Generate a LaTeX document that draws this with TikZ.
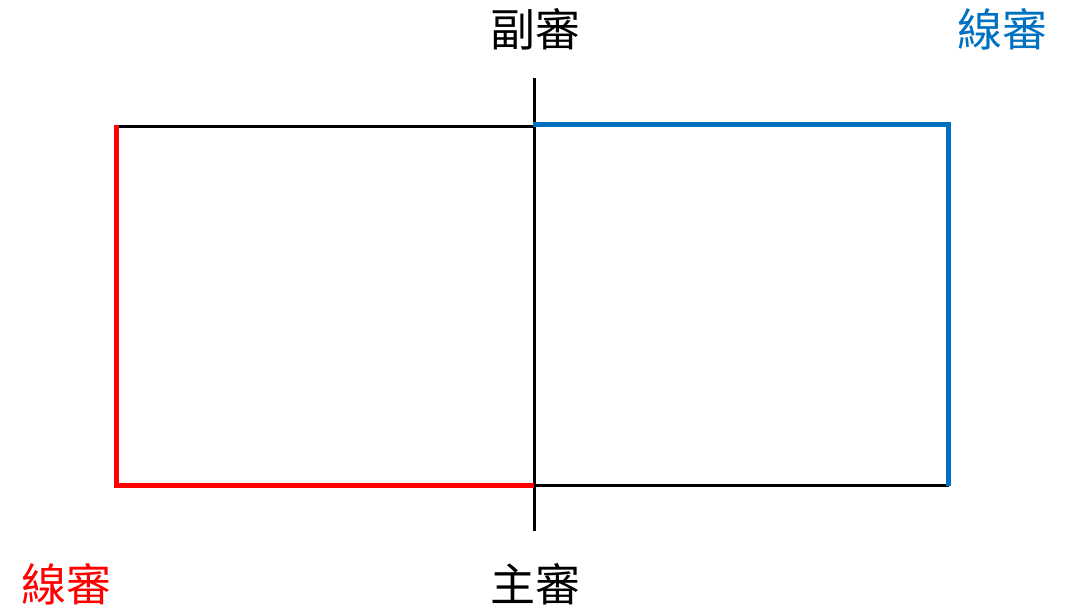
\documentclass[tikz,border=0pt]{standalone}
\usepackage{fontspec}
\newfontfamily\cjk{Noto Sans CJK TC}
\definecolor{refred}{HTML}{FF0000}
\definecolor{refblue}{HTML}{0070C0}
\begin{document}
\begin{tikzpicture}[x=1pt,y=-1pt,
  thinline/.style={draw=black,line width=3pt},
  redline/.style={draw=refred,line width=5pt,line join=miter},
  blueline/.style={draw=refblue,line width=5pt,line join=miter},
  lbl/.style={inner sep=0pt,font=\cjk\fontsize{45}{50}\selectfont}]
\useasboundingbox[fill=white] (0,0) rectangle (1071,607);
% corners
\coordinate (TL) at (116.5,126.5);
\coordinate (TM) at (534,126.5);
\coordinate (TR) at (948.5,126.5);
\coordinate (BL) at (116.5,485);
\coordinate (BM) at (534,485);
\coordinate (BR) at (948.5,485);
\coordinate (CT) at (534,78);
\coordinate (CB) at (534,531);
\coordinate (RS) at (116.5,125);
\coordinate (BS) at (532.5,125);
\coordinate (BC) at (948.5,125);
\coordinate (BE) at (948.5,486);
% black parts
\draw[thinline] (TL) -- (TM);
\draw[thinline] (BM) -- (BR);
\draw[thinline] (CT) -- (CB);
% red and blue sides
\draw[redline] (RS) -- (BL) -- (BM);
\draw[blueline] (BS) -- (BC) -- (BE);
% labels
\node[lbl] (fu) at (535,29) {副審};
\node[lbl,text=refblue] (xb) at (1002.5,29) {線審};
\node[lbl,text=refred] (xr) at (66,584) {線審};
\node[lbl] (zhu) at (535,584) {主審};
\end{tikzpicture}
\end{document}
